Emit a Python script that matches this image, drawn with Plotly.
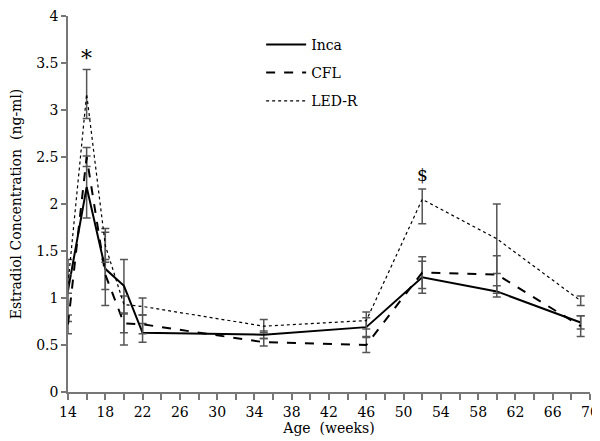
import plotly.graph_objects as go

weeks = [14, 16, 18, 20, 22, 35, 46, 52, 60, 69]

inca = [1.08, 2.18, 1.31, 1.13, 0.63, 0.61, 0.69, 1.22, 1.07, 0.74]
inca_up = [0.33, 0.33, 0.39, 0.28, 0.10, 0.04, 0.10, 0.17, 0.06, 0.07]
inca_dn = [0.33, 0.33, 0.39, 0.63, 0.10, 0.04, 0.10, 0.17, 0.06, 0.07]

cfl = [0.72, 2.50, 1.25, 0.73, 0.72, 0.53, 0.50, 1.27, 1.25, 0.70]
cfl_up = [0.10, 0.10, 0.16, 0.10, 0.10, 0.04, 0.08, 0.17, 0.20, 0.11]
cfl_dn = [0.10, 0.10, 0.16, 0.10, 0.10, 0.04, 0.08, 0.17, 0.20, 0.11]

led = [1.15, 3.17, 1.56, 0.93, 0.91, 0.70, 0.76, 2.05, 1.63, 0.97]
led_up = [0.10, 0.26, 0.18, 0.09, 0.09, 0.07, 0.09, 0.11, 0.37, 0.05]
led_dn = [0.10, 0.26, 0.18, 0.09, 0.09, 0.07, 0.09, 0.26, 0.37, 0.05]

x_ticks = list(range(14, 71, 4))
y_ticks = [0, 0.5, 1, 1.5, 2, 2.5, 3, 3.5, 4]
y_tick_labels = ["0", "0.5", "1", "1.5", "2", "2.5", "3", "3.5", "4"]

FONT = "DejaVu Serif"
ERR = "#555555"
AX = "#777777"

def err(up, dn):
    return dict(type="data", symmetric=False, array=up, arrayminus=dn,
                color=ERR, thickness=1.5, width=4)

fig = go.Figure()
fig.add_trace(go.Scatter(x=weeks, y=inca, name="Inca", mode="lines", legendgroup="a",
                         line=dict(color="black", width=2, dash="solid"),
                         error_y=err(inca_up, inca_dn)))
fig.add_trace(go.Scatter(x=weeks, y=cfl, name="CFL", mode="lines", legendgroup="b",
                         line=dict(color="black", width=2, dash="dash"),
                         error_y=err(cfl_up, cfl_dn)))
fig.add_trace(go.Scatter(x=weeks, y=led, name="LED-R", mode="lines", legendgroup="c",
                         line=dict(color="black", width=1.2, dash="dot"),
                         error_y=err(led_up, led_dn)))

fig.add_annotation(x=16, y=3.55, text="*", showarrow=False,
                   font=dict(family=FONT, size=22, color="black"))
fig.add_annotation(x=52, y=2.31, text="$", showarrow=False,
                   font=dict(family=FONT, size=17, color="black"))

fig.update_layout(
    width=600, height=441,
    margin=dict(l=60, r=18, t=8, b=57),
    paper_bgcolor="white", plot_bgcolor="white",
    font=dict(family=FONT, size=14, color="black"),
    showlegend=True,
    legend=dict(x=0.37, y=0.966, xanchor="left", yanchor="top",
                bgcolor="rgba(0,0,0,0)", font=dict(family=FONT, size=14),
                tracegroupgap=7, itemwidth=40),
)
fig.update_xaxes(range=[14, 70], tickmode="array", tickvals=x_ticks, automargin=False,
                 ticklabeloverflow="allow",
                 ticks="outside", ticklen=6, tickcolor=AX, tickwidth=1.5,
                 showline=True, linecolor=AX, linewidth=1.5,
                 showgrid=False, zeroline=False,
                 minor=dict(dtick=2, tick0=14, ticks="outside", ticklen=6,
                            tickcolor=AX, tickwidth=1.5, showgrid=False),
                 title=dict(text="Age  (weeks)", font=dict(family=FONT, size=14), standoff=4))
fig.update_yaxes(range=[0, 4], tickmode="array", tickvals=y_ticks, ticktext=y_tick_labels,
                 automargin=False, ticklabeloverflow="allow",
                 ticks="outside", ticklen=5, tickcolor=AX, tickwidth=1.5,
                 showline=True, linecolor=AX, linewidth=1.5,
                 showgrid=False, zeroline=False,
                 title=dict(text="Estradiol Concentration  (ng-ml)", font=dict(family=FONT, size=14), standoff=15))

fig.write_html("out.html")
